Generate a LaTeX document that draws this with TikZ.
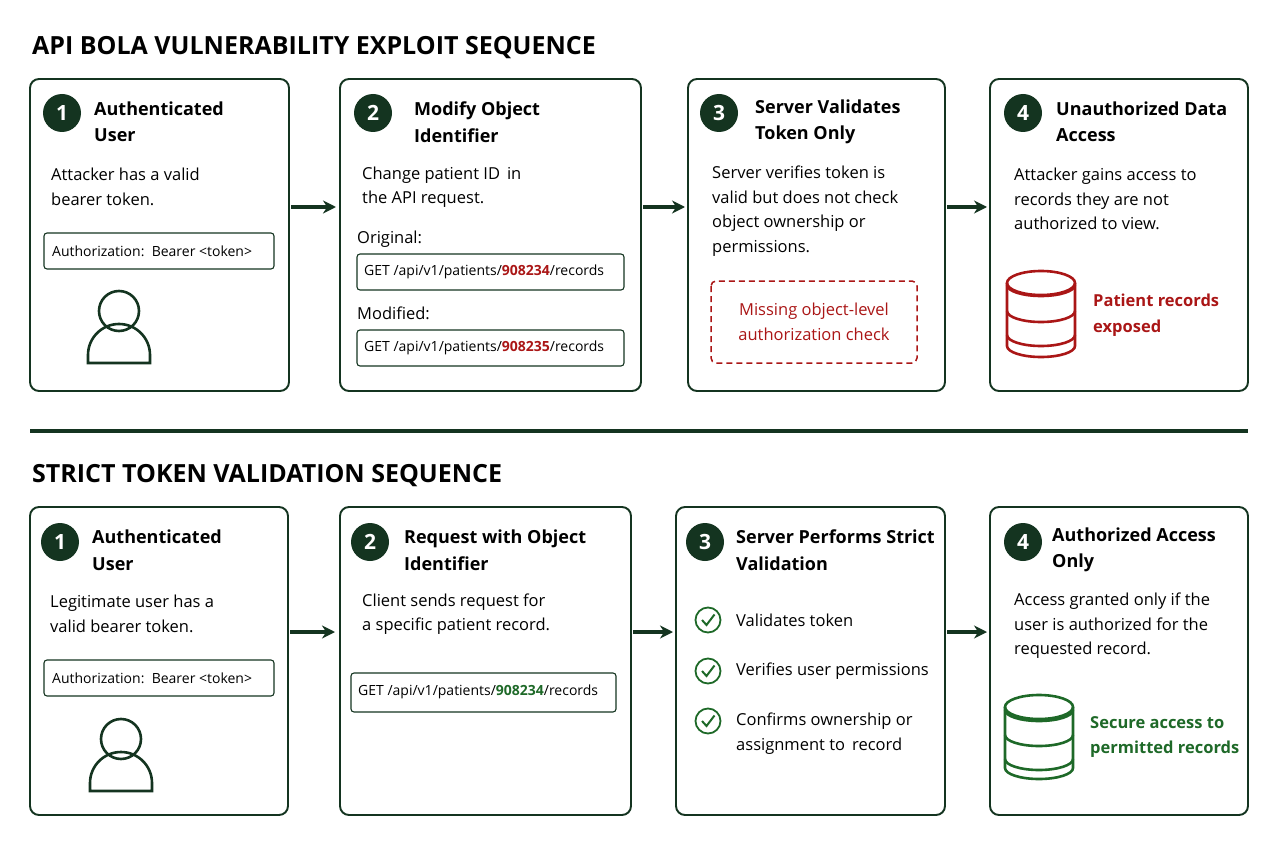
\documentclass[tikz,border=0pt]{standalone}
\usepackage{fontspec}
\setmainfont{Open Sans}
\usetikzlibrary{arrows.meta}
\definecolor{dkgreen}{RGB}{20,52,32}
\definecolor{myred}{RGB}{170,22,22}
\definecolor{mygreen}{RGB}{30,105,40}

\tikzset{
  card/.style={draw=dkgreen, line width=1.9pt, rounded corners=9pt},
  codebox/.style={draw=dkgreen, line width=1.1pt, rounded corners=3pt},
  num/.style={circle, fill=dkgreen, text=white, minimum size=38pt, inner sep=0pt, font=\fontsize{21}{21}\selectfont\bfseries},
  head/.style={anchor=west, align=left, font=\fontsize{18}{26.5}\selectfont\bfseries, inner sep=0pt},
  body/.style={anchor=west, align=left, font=\fontsize{16.5}{24.5}\selectfont, inner sep=0pt},
  code/.style={anchor=west, font=\fontsize{14}{16}\selectfont, inner sep=0pt},
  title/.style={anchor=west, font=\fontsize{25}{25}\selectfont\bfseries, inner sep=0pt},
  flow/.style={-{Stealth[length=13pt,width=13pt]}, draw=dkgreen, line width=3.4pt},
  icon/.style={draw=dkgreen, line width=2.6pt},
}

\begin{document}
\begin{tikzpicture}[x=1pt, y=-1pt]
  \useasboundingbox (0,0) rectangle (1280,853);

  % Titles and separator
  \node[title] (t1) at (32,48) {API BOLA VULNERABILITY EXPLOIT SEQUENCE};
  \node[title] (t2) at (32,476) {STRICT TOKEN VALIDATION SEQUENCE};
  \draw[dkgreen, line width=3.8pt] (30,431) -- (1248,431);

  % Top row cards
  \draw[card] (30,79) rectangle (289,391);
  \draw[card] (340,79) rectangle (641,391);
  \draw[card] (688,79) rectangle (945,391);
  \draw[card] (990,79) rectangle (1248,391);
  \coordinate (a1) at (291,207); \coordinate (b1) at (336,207);
  \coordinate (a2) at (643,207); \coordinate (b2) at (685,207);
  \coordinate (a3) at (947,207); \coordinate (b3) at (987,207);
  \foreach \i in {1,2,3} \draw[flow] (a\i) -- (b\i);

  % Step 1
  \node[num] (n1) at (62,113) {1};
  \node[head] (h1) at (94,122) {Authenticated\\User};
  \node[body] (d1) at (51,187) {Attacker has a valid\\bearer token.};
  \draw[codebox] (44,233) rectangle (274,269);
  \node[code] (c1) at (52,251) {Authorization:\ \ Bearer <token>};
  \draw[icon] (119,311) circle (20);
  \draw[icon] (88,363) -- (88,355) arc (180:360:31) -- (150,363) -- cycle;

  % Step 2
  \node[num] (n2) at (373,113) {2};
  \node[head] (h2) at (414,122) {Modify Object\\Identifier};
  \node[body] (d2) at (362,187) {Change patient ID\, in\\the API request.};
  \node[body] (o2) at (357,239) {Original:};
  \draw[codebox] (357,254) rectangle (624,290);
  \node[code] (c2) at (364,272) {GET /api/v1/patients/\textcolor{myred}{\bfseries 908234}/records};
  \node[body] (m2) at (357,313) {Modified:};
  \draw[codebox] (357,330) rectangle (624,366);
  \node[code] (c3) at (364,348) {GET /api/v1/patients/\textcolor{myred}{\bfseries 908235}/records};

  % Step 3
  \node[num] (n3) at (719,113) {3};
  \node[head] (h3) at (755,122) {Server Validates\\Token Only};
  \node[body] (d3) at (712,211) {Server verifies token is\\valid but does not check\\object ownership or\\permissions.};
  \draw[myred, line width=1.5pt, dash pattern=on 6pt off 4pt, rounded corners=5pt] (711,281) rectangle (917,363);
  \node[body, anchor=center, align=center, text=myred] (w3) at (814,322) {Missing object-level\\authorization check};

  % Step 4
  \node[num] (n4) at (1023,113) {4};
  \node[head] (h4) at (1056,122) {Unauthorized Data\\Access};
  \node[body] (d4) at (1014,199) {Attacker gains access to\\records they are not\\authorized to view.};
  \foreach \yy in {285,311,335} \draw[myred, line width=2.6pt] (1007,\yy) arc (180:0:34 and 11);
  \draw[myred, line width=2.6pt] (1041,283) ellipse (34 and 12);
  \draw[myred, line width=2.6pt] (1007,283) -- (1007,346) arc (180:0:34 and 11) -- (1075,283);
  \node[body, text=myred, font=\fontsize{16.5}{25.5}\selectfont\bfseries] (r4) at (1093,315) {Patient records\\exposed};

  % Bottom row cards
  \draw[card] (30,507) rectangle (288,815);
  \draw[card] (340,507) rectangle (631,815);
  \draw[card] (676,507) rectangle (945,815);
  \draw[card] (990,507) rectangle (1248,815);
  \coordinate (p1) at (290,632); \coordinate (q1) at (335,632);
  \coordinate (p2) at (633,632); \coordinate (q2) at (673,632);
  \coordinate (p3) at (947,632); \coordinate (q3) at (987,632);
  \foreach \i in {1,2,3} \draw[flow] (p\i) -- (q\i);

  % Step 1
  \node[num] (m1) at (60,542) {1};
  \node[head] (g1) at (92,550) {Authenticated\\User};
  \node[body] (e1) at (50,614) {Legitimate user has a\\valid bearer token.};
  \draw[codebox] (44,660) rectangle (274,696);
  \node[code] (k1) at (52,678) {Authorization:\ \ Bearer <token>};
  \draw[icon] (121,739) circle (20);
  \draw[icon] (90,791) -- (90,783) arc (180:360:31) -- (152,791) -- cycle;

  % Step 2
  \node[num] (m2) at (370,542) {2};
  \node[head] (g2) at (404,550) {Request with Object\\Identifier};
  \node[body] (e2) at (362,614) {Client sends request for\\a specific patient record.};
  \draw[codebox] (351,673) rectangle (616,712);
  \node[code] (k2) at (358,692) {GET /api/v1/patients/\textcolor{mygreen}{\bfseries 908234}/records};

  % Step 3
  \node[num] (m3) at (705,542) {3};
  \node[head] (g3) at (736,550) {Server Performs Strict\\Validation};
  \foreach \yy/\txt in {620/Validates token, 671/Verifies user permissions, 721/Confirms ownership or} {
    \draw[mygreen, line width=1.8pt] (708,\yy) circle (12.5);
    \draw[mygreen, line width=2pt] (702,\yy) -- (706.5,\yy+5) -- (714.5,\yy-5.5);
    \node[body] at (736,\yy) {\txt};
  }
  \node[body] (e3) at (736,746) {assignment to\, record};

  % Step 4
  \node[num] (m4) at (1023,542) {4};
  \node[head] (g4) at (1052,550) {Authorized Access\\Only};
  \node[body] (e4) at (1014,626) {Access granted only if the\\user is authorized for the\\requested record.};
  \foreach \yy in {710,735,759} \draw[mygreen, line width=2.6pt] (1005,\yy) arc (180:0:34 and 11);
  \draw[mygreen, line width=2.6pt] (1039,707) ellipse (34 and 12);
  \draw[mygreen, line width=2.6pt] (1005,707) -- (1005,768) arc (180:0:34 and 11) -- (1073,707);
  \node[body, text=mygreen, font=\fontsize{16.5}{25.5}\selectfont\bfseries] (s4) at (1090,737) {Secure access to\\permitted records};
\end{tikzpicture}
\end{document}
